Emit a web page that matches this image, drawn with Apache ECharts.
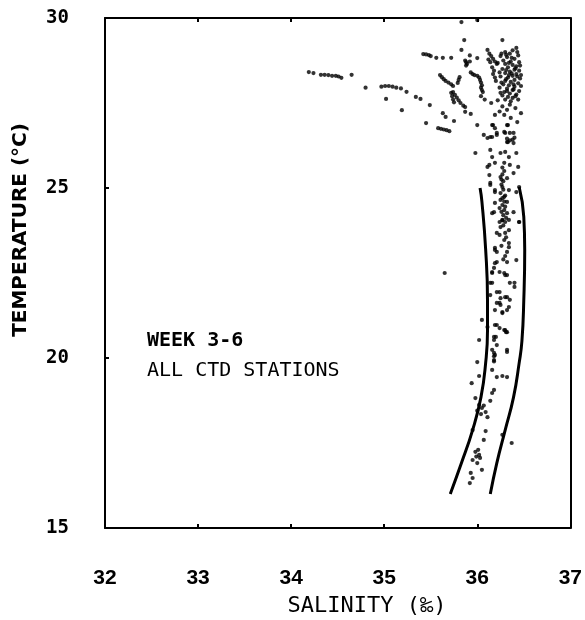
<!DOCTYPE html>
<html>
<head>
<meta charset="utf-8">
<script src="https://cdn.jsdelivr.net/npm/echarts@6/dist/echarts.min.js"></script>
<style>
html,body{margin:0;padding:0;background:#fff;}
#chart{width:585px;height:620px;}
</style>
</head>
<body>
<div id="chart"></div>
<script>
// ---- Data (salinity ‰, temperature °C) ----
var xTickLabels = ['32', '33', '34', '35', '36', '37'];
var yTickLabels = ['15', '20', '25', '30'];
var xTitle = 'SALINITY (‰)';
var yTitle = 'TEMPERATURE (°C)';
var noteLines = ['WEEK 3-6', 'ALL CTD STATIONS'];

// fresher surface trails extending to the left
var warmTrails = [
  [34.19,28.41],[34.24,28.38],[34.32,28.33],[34.36,28.33],[34.40,28.32],[34.44,28.30],[34.48,28.30],
  [34.51,28.28],[34.54,28.24],[34.65,28.33],
  [34.80,27.95],[34.97,27.98],[35.01,28.00],[35.05,28.00],[35.09,27.98],[35.13,27.95],[35.18,27.93],
  [35.24,27.83],[35.34,27.68],[35.39,27.62],[35.49,27.44],[35.63,27.20],[35.66,27.09],[35.75,26.97],
  [35.02,27.62],[35.19,27.29],[35.45,26.91],
  [35.58,26.76],[35.61,26.74],[35.64,26.72],[35.67,26.70],[35.70,26.67],
  [35.42,28.94],[35.45,28.93],[35.48,28.91],[35.50,28.88],[35.56,28.83],[35.63,28.83],[35.72,28.83],
  [35.60,28.32],[35.62,28.26],[35.64,28.20],[35.66,28.15],[35.69,28.10],[35.72,28.05],[35.74,28.00],
  [35.81,28.26],[35.80,28.18],[35.79,28.09],
  [35.74,27.82],[35.76,27.74],[35.78,27.66],[35.80,27.58],[35.82,27.50],[35.85,27.42],[35.87,27.38],
  [35.72,27.80],[35.73,27.70],[35.74,27.60],[35.75,27.52]
];

// surface mixed-layer cluster
var surfaceCluster = [
  [35.83,29.88],[36.00,29.94],[35.86,29.35],[35.83,29.06],[35.92,28.90],[36.00,28.82],
  [35.87,28.75],[35.88,28.70],[35.89,28.65],[35.88,28.60],[35.92,28.72],
  [35.93,28.40],[35.95,28.35],[35.97,28.32],[36.00,28.30],[36.02,28.25],[36.03,28.18],[36.04,28.10],
  [36.05,28.02],[36.04,27.95],[36.05,27.88],[36.06,27.82],
  [36.11,29.06],[36.13,28.95],[36.15,28.88],[36.17,28.80],[36.19,28.72],[36.21,28.65],[36.14,28.70],[36.12,28.78],
  [36.16,28.55],[36.18,28.45],[36.17,28.35],[36.19,28.25],[36.20,28.15],
  [36.27,29.35],[36.42,29.12],[36.38,29.05],[36.30,29.00],[36.35,28.95],[36.44,28.90],[36.25,28.88],
  [36.32,28.85],[36.40,28.80],[36.28,28.75],[36.36,28.72],[36.45,28.70],[36.22,28.68],[36.30,28.65],
  [36.38,28.62],[36.42,28.58],[36.33,28.55],[36.27,28.50],[36.40,28.48],[36.45,28.45],[36.35,28.42],
  [36.30,28.38],[36.42,28.35],[36.38,28.30],[36.25,28.28],[36.33,28.25],[36.46,28.22],[36.40,28.18],
  [36.30,28.15],[36.36,28.12],[36.44,28.08],[36.28,28.05],[36.34,28.02],[36.40,27.98],[36.24,27.95],
  [36.32,27.92],[36.38,27.88],[36.45,27.85],[36.29,27.82],[36.35,27.78],[36.42,27.75],[36.27,27.72],
  [36.33,27.68],[36.38,27.65],[36.30,27.60],[36.22,27.58],[36.36,27.55],
  [36.31,28.92],[36.37,28.83],[36.34,28.68],[36.41,28.52],[36.31,28.47],[36.37,28.37],[36.34,28.32],
  [36.43,28.28],[36.31,28.20],[36.39,28.05],[36.32,27.85],[36.41,27.70],
  [36.43,29.00],[36.26,28.95],[36.46,28.60],[36.24,28.40],[36.47,28.32],[36.26,28.10],[36.47,28.00],
  [36.39,27.90],[36.25,27.80],[36.44,27.60],[36.35,27.45],[36.27,27.40],[36.41,27.35],[36.32,27.30],[36.24,27.25],
  [35.87,27.24],[35.93,27.18],[36.00,26.85],[36.04,27.70],[36.08,27.60],[36.15,27.50],
  [36.19,27.15],[36.29,27.15],[36.36,27.06],[36.47,27.20],[36.17,26.85],[36.33,26.85],[36.43,26.94],
  [36.07,26.56],[36.14,26.50],[36.21,26.62],[36.29,26.65],[36.35,26.62],
  [36.32,26.45],[36.35,26.40],[36.38,26.42],[36.33,26.35],[36.40,26.48]
];

// upper thermocline column
var upperColumn = [
  [36.16,26.85],[36.19,26.76],[36.32,26.85],[36.39,26.62],[36.30,26.62],
  [36.11,26.47],[36.16,26.50],[36.21,26.56],[36.32,26.35],[36.39,26.32],
  [35.98,26.03],[36.14,26.12],[36.16,25.91],[36.25,26.03],[36.30,26.06],[36.34,25.91],[36.42,26.03],
  [36.11,25.62],[36.19,25.74],[36.29,25.74],[36.35,25.68],[36.44,25.62],
  [36.13,25.38],[36.25,25.32],[36.27,25.40],[36.26,25.25],[36.28,25.20],[36.32,25.29],[36.39,25.44],
  [36.14,25.09],[36.27,25.03],[36.34,24.94],[36.45,25.03],
  [36.19,24.88],[36.29,24.74],[36.32,24.59],
  [36.19,24.56],[36.24,24.41],[36.29,24.35],[36.32,24.26],[36.39,24.29],
  [36.25,24.65],[36.27,24.50],[36.30,24.45],[36.26,24.30],[36.28,24.20],[36.31,24.12],[36.27,24.05],
  [36.16,24.26],[36.27,24.06],[36.34,24.06],[36.45,24.00],
  [36.25,23.85],[36.34,23.76],[36.30,23.68],[36.24,23.62],[36.29,23.47],[36.34,23.38],
  [36.34,23.26],[36.32,23.12],[36.19,23.24],[36.21,23.12],
  [36.42,22.88],[36.32,22.82],[36.19,22.79],[36.18,22.65],[36.16,22.50],[36.24,22.53],
  [36.29,22.50],[36.32,22.44],[36.40,22.21],[36.14,22.21],[35.65,22.50],
  [36.13,25.68],[36.14,25.15],[36.19,24.94],[36.18,24.29],[36.24,24.00],[36.21,23.68],[36.19,23.18],
  [36.21,22.82],[36.16,22.53],[36.30,22.44],[36.16,22.21],[36.35,22.21],[36.40,22.09],[36.42,24.88],[36.45,24.00],
  [36.27,25.60],[36.29,25.50],[36.26,25.10],[36.28,24.95],[36.25,24.85],[36.30,24.78],[36.27,24.70],
  [36.29,24.60],[36.30,24.00],[36.28,23.90],[36.31,23.55],[36.26,23.30],[36.30,23.00],[36.28,22.90]
];

// lower column
var lowerColumn = [
  [36.24,21.94],[36.14,21.85],[36.30,21.79],[36.35,21.71],[36.21,21.62],[36.25,21.56],
  [36.34,21.50],[36.27,21.35],[36.32,21.41],
  [36.21,21.94],[36.25,21.76],[36.24,21.62],[36.19,21.41],[36.27,21.32],[36.32,21.79],
  [36.05,21.12],[36.11,20.91],[36.19,20.97],[36.24,20.88],[36.30,20.82],
  [36.21,20.97],[36.18,20.62],[36.29,20.82],[36.32,20.76],
  [36.02,20.53],[36.18,20.53],[36.21,20.38],[36.32,20.24],[36.16,20.24],[36.19,20.09],[36.18,19.94],
  [36.00,19.88],[36.02,19.47],[36.16,19.65],[36.21,19.44],[36.27,19.47],[36.32,19.44],
  [36.20,20.62],[36.31,20.76],[36.32,20.18],[36.18,20.15],[36.18,20.05],[36.18,19.90],
  [35.94,19.26],[36.18,19.06],[36.16,18.97],[36.14,18.74],[35.98,18.82],
  [36.02,18.62],[36.05,18.53],[36.09,18.41],[36.11,18.26],[36.00,18.45],[36.04,18.35],[36.07,18.60],
  [35.95,17.88],[36.09,17.85],[36.07,17.59],[36.27,17.74],[36.37,17.50],
  [35.98,17.24],[36.02,17.15],[36.03,17.06],[35.95,17.00],[36.00,16.91],[36.05,16.71],[35.99,17.10],[36.01,17.30],
  [35.93,16.62],[35.95,16.47],[35.92,16.32]
];

// envelope curves
var envelopeLeft = [
  [36.03,25.0],[36.05,24.6],[36.09,23.2],[36.11,21.7],[36.11,20.8],[36.09,19.85],
  [36.04,18.85],[35.95,17.88],[35.83,16.91],[35.71,16.0]
];
var envelopeRight = [
  [36.45,25.03],[36.50,24.15],[36.51,23.18],[36.50,21.7],[36.48,20.5],[36.45,19.85],
  [36.39,18.85],[36.30,17.88],[36.21,16.91],[36.14,16.0]
];

var chart = echarts.init(document.getElementById('chart'), null, {renderer: 'canvas'});

function dots(name, data) {
  return {name: name, type: 'scatter', data: data, symbol: 'circle', symbolSize: 4.2,
          itemStyle: {color: '#000'}, silent: true, animation: false};
}
function curve(name, data) {
  return {name: name, type: 'line', data: data, smooth: true, symbol: 'none',
          lineStyle: {color: '#000', width: 3}, silent: true, animation: false};
}

var option = {
  backgroundColor: '#fff',
  animation: false,
  grid: {left: 105, right: 12, top: 18, bottom: 92, show: false},
  xAxis: [{
    type: 'value', min: 32, max: 37, interval: 1, position: 'bottom',
    axisLine: {show: true, onZero: false, lineStyle: {color: '#000', width: 2}},
    axisTick: {show: true, inside: true, length: 4, lineStyle: {color: '#000', width: 2}},
    axisLabel: {show: true, margin: 40, color: '#000', fontFamily: 'Liberation Sans', fontWeight: 'bold', fontSize: 21,
      formatter: function (v) { return xTickLabels[Math.round(v - 32)]; }},
    splitLine: {show: false}
  }, {
    type: 'value', min: 32, max: 37, interval: 1, position: 'top',
    axisLine: {show: true, onZero: false, lineStyle: {color: '#000', width: 2}},
    axisTick: {show: true, inside: true, length: 4, lineStyle: {color: '#000', width: 2}},
    axisLabel: {show: false}, splitLine: {show: false}
  }],
  yAxis: [{
    type: 'value', min: 15, max: 30, interval: 5, position: 'left',
    axisLine: {show: true, onZero: false, lineStyle: {color: '#000', width: 2}},
    axisTick: {show: true, inside: true, length: 4, lineStyle: {color: '#000', width: 2}},
    axisLabel: {show: true, margin: 36, color: '#000', fontFamily: 'DejaVu Sans Mono', fontWeight: 'bold', fontSize: 19,
      formatter: function (v) { return yTickLabels[Math.round((v - 15) / 5)]; }},
    splitLine: {show: false}
  }, {
    type: 'value', min: 15, max: 30, interval: 5, position: 'right',
    axisLine: {show: true, onZero: false, lineStyle: {color: '#000', width: 2}},
    axisTick: {show: false}, axisLabel: {show: false}, splitLine: {show: false}
  }],
  graphic: [
    {type: 'text', left: 147, top: 331, style: {text: noteLines[0], fill: '#000',
      font: 'bold 20px "DejaVu Sans Mono"'}},
    {type: 'text', left: 147, top: 361, style: {text: noteLines[1], fill: '#000',
      font: '20px "DejaVu Sans Mono"'}},
    {type: 'text', x: 367, y: 606, style: {text: xTitle, fill: '#000', align: 'center', verticalAlign: 'middle',
      font: '22px "DejaVu Sans Mono"'}},
    {type: 'text', x: 21, y: 230, rotation: Math.PI / 2, style: {text: yTitle, fill: '#000', align: 'center', verticalAlign: 'middle',
      font: 'bold 20px "DejaVu Sans"'}}
  ],
  series: [
    dots('warmTrails', warmTrails),
    dots('surfaceCluster', surfaceCluster),
    dots('upperColumn', upperColumn),
    dots('lowerColumn', lowerColumn),
    curve('envelopeLeft', envelopeLeft),
    curve('envelopeRight', envelopeRight)
  ]
};
chart.setOption(option);
</script>
</body>
</html>
